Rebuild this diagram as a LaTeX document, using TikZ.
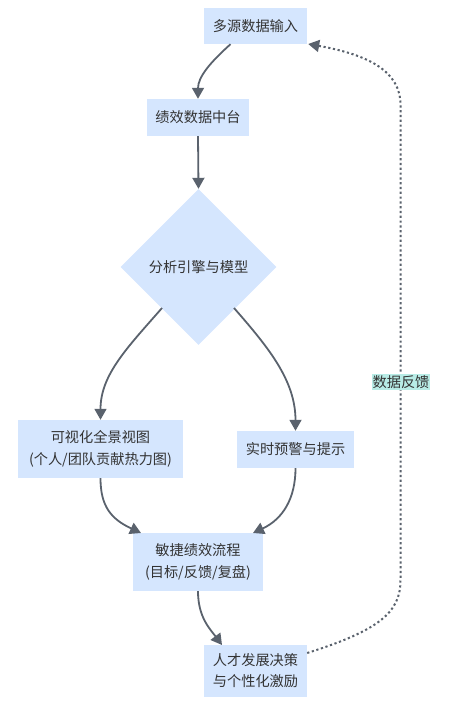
\documentclass[tikz,border=0pt]{standalone}
\usepackage{fontspec}
\usetikzlibrary{shapes.geometric,arrows.meta}
\newfontfamily\cjk{Noto Sans CJK SC}
\definecolor{boxfill}{HTML}{D5E6FE}
\definecolor{edgec}{HTML}{5A626D}
\definecolor{txt}{HTML}{333333}
\definecolor{lblfill}{HTML}{B8ECE6}
\begin{document}
\begin{tikzpicture}[x=1pt,y=-1pt,
  every node/.style={font=\cjk\fontsize{14.2pt}{22pt}\selectfont, text=txt},
  box/.style={fill=boxfill, draw=none, inner sep=0pt, align=center},
  decide/.style={diamond, fill=boxfill, draw=none, inner sep=0pt, minimum width=156pt, minimum height=156pt},
  flow/.style={draw=edgec, line width=1.8pt, -{Triangle[length=11pt,width=12pt]}},
  fb/.style={draw=edgec, line width=2pt, dash pattern=on 2.2pt off 2.6pt, -{Triangle[length=11pt,width=12pt]}},
  lbl/.style={fill=lblfill, inner sep=1pt}]
\useasboundingbox (0,0) rectangle (465,706);
\node[box, minimum width=103pt, minimum height=36pt] (n1) at (255.5,26) {多源数据输入};
\node[box, minimum width=102pt, minimum height=37pt] (n2) at (198,117.5) {绩效数据中台};
\node[decide] (n3) at (198.5,267) {分析引擎与模型};
\node[box, minimum width=165pt, minimum height=58pt] (n4) at (100.5,449) {可视化全景视图\\(个人/团队贡献热力图)};
\node[box, minimum width=117pt, minimum height=37pt] (n5) at (295.5,449.5) {实时预警与提示};
\node[box, minimum width=130pt, minimum height=58pt] (n6) at (198,562) {敏捷绩效流程\\(目标/反馈/复盘)};
\node[box, minimum width=103pt, minimum height=52pt, font=\cjk\fontsize{14.2pt}{21pt}\selectfont] (n7) at (255.5,671) {人才发展决策\\与个性化激励};

\coordinate (a1) at ([xshift=-25pt]n1.south);
\draw[flow] (a1) .. controls +(-20,18) and +(0,-22) .. (n2.north);
\draw[flow] (n2.south) -- (n3.north);
\coordinate (a3) at (162,308);
\coordinate (b3) at (234,308);
\draw[flow] (a3) .. controls +(-35,40) and +(0,-45) .. (n4.north);
\coordinate (e5) at (n5.north);
\draw[flow] (b3) .. controls +(35,40) and +(0,-50) .. (e5);
\coordinate (e61) at (141,533);
\coordinate (e62) at (253,533);
\draw[flow] (n4.south) .. controls +(0,28) and +(-30,-14) .. (e61);
\draw[flow] (n5.south) .. controls +(0,30) and +(30,-14) .. (e62);
\coordinate (e7) at (222,645);
\draw[flow] (n6.south) .. controls +(0,26) and +(-12,-16) .. (e7);

\coordinate (f0) at ([yshift=18pt]n7.east);
\coordinate (f1) at (400.5,580);
\coordinate (f2) at (400.5,105);
\coordinate (f3) at ([yshift=-18pt,xshift=1pt]n1.east);
\draw[fb] (f0) .. controls (380,630) and (400.5,612) .. (f1) -- (f2) .. controls (400.5,72) and (370,55) .. (f3);
\node[lbl] (lb) at (401,382) {数据反馈};
\end{tikzpicture}
\end{document}
